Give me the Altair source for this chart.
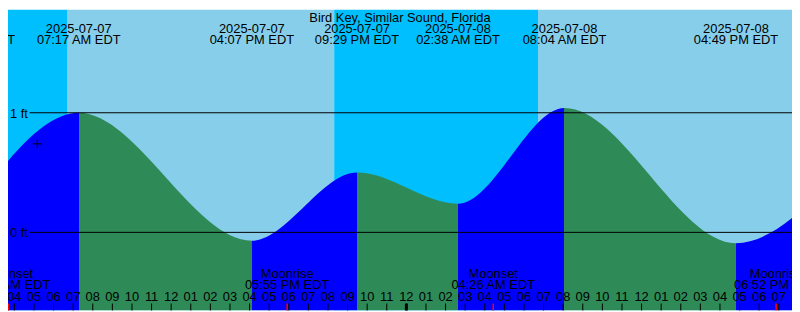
import altair as alt
import pandas as pd

# ---------------- data ----------------
TITLE = "Bird Key, Similar Sound, Florida"

tide_times = ["2025-07-07T01:54:00", "2025-07-07T07:17:00", "2025-07-07T16:07:00",
              "2025-07-07T21:29:00", "2025-07-08T02:38:00", "2025-07-08T08:04:00",
              "2025-07-08T16:49:00", "2025-07-08T22:20:00"]
tide_heights = [0.23, 1.00, -0.07, 0.50, 0.24, 1.04, -0.09, 0.54]
tide_dates = ["2025-07-07", "2025-07-07", "2025-07-07", "2025-07-07",
              "2025-07-08", "2025-07-08", "2025-07-08", "2025-07-08"]
tide_clock = ["01:54 AM EDT", "07:17 AM EDT", "04:07 PM EDT", "09:29 PM EDT",
              "02:38 AM EDT", "08:04 AM EDT", "04:49 PM EDT", "10:20 PM EDT"]

sky_start = ["2025-07-07T00:00:00", "2025-07-07T06:43:00", "2025-07-07T20:19:00", "2025-07-08T06:43:00"]
sky_end = ["2025-07-07T06:43:00", "2025-07-07T20:19:00", "2025-07-08T06:43:00", "2025-07-09T00:00:00"]
sky_kind = ["night", "day", "night", "day"]

moon_times = ["2025-07-07T03:42:00", "2025-07-07T17:55:00", "2025-07-08T04:26:00", "2025-07-08T18:52:00"]
moon_events = ["Moonset", "Moonrise", "Moonset", "Moonrise"]
moon_clock = ["03:42 AM EDT", "05:55 PM EDT", "04:26 AM EDT", "06:52 PM EDT"]

hour_first, hour_last = "2025-07-07T04:00:00", "2025-07-08T19:00:00"
midnights = ["2025-07-08T00:00:00"]
now_times = ["2025-07-07T05:10:00"]
now_heights = [0.74]

levels = [0, 1]
level_labels = ["0 ft", "1 ft"]

window = ["2025-07-07T03:40:30", "2025-07-08T19:40:30"]
height_range = [-0.653, 1.863]

# ---------------- styling ----------------
W, H = 792, 304
SX, SY = W / 800.0, H / 312.0
FONT = "Liberation Sans"
NIGHT, DAY = "#00BFFF", "#87CEEB"
RISE, FALL = "#0000FF", "#2E8B57"


def ms(s):
    # wall-clock time treated as UTC so the drawing does not depend on the browser's zone
    return int(pd.Timestamp(s, tz="UTC").value // 10**6)


def ms_col(lst):
    return [ms(s) for s in lst]


xscale = alt.Scale(type="utc", domain=[ms(window[0]), ms(window[1])])
yscale = alt.Scale(domain=height_range, nice=False, zero=False)


def X(field):
    return alt.X(field, type="temporal", scale=xscale, axis=None)


def Y(field):
    return alt.Y(field, type="quantitative", scale=yscale, axis=None)


# tide table
tide = pd.DataFrame({"t": ms_col(tide_times), "h": tide_heights, "date": tide_dates,
                     "clock": tide_clock})
tide["base"] = height_range[0]

# gradient: blue while rising, green while falling
tms = ms_col(tide_times)
span = float(tms[-1] - tms[0])
offs = [(t - tms[0]) / span for t in tms]
stops = []
for i in range(len(tide_heights) - 1):
    c = RISE if tide_heights[i + 1] > tide_heights[i] else FALL
    stops.append({"offset": offs[i], "color": c})
    stops.append({"offset": offs[i + 1], "color": c})
gradient = {"gradient": "linear", "x1": 0, "x2": 1, "y1": 0, "y2": 0, "stops": stops}

hours = pd.date_range(hour_first, hour_last, freq="h")
hrs = pd.DataFrame({"t": ms_col([str(h) for h in hours]),
                    "lab": [h.strftime("%I") for h in hours]})

sky = pd.DataFrame({"s": ms_col(sky_start), "e": ms_col(sky_end), "kind": sky_kind})
moon = pd.DataFrame({"t": ms_col(moon_times), "ev": moon_events, "clock": moon_clock})
mid = pd.DataFrame({"t": ms_col(midnights)})
now = pd.DataFrame({"t": ms_col(now_times), "h": now_heights})
lev = pd.DataFrame({"h": levels, "lab": level_labels})
ttl = pd.DataFrame({"txt": [TITLE]})

sky_layer = alt.Chart(sky).mark_rect(clip=True).encode(
    x=X("s"), x2="e",
    y=alt.value(0), y2=alt.value(H),
    color=alt.Color("kind:N", scale=alt.Scale(domain=["night", "day"], range=[NIGHT, DAY]), legend=None),
)

tide_area = alt.Chart(tide).mark_area(interpolate="monotone", clip=True, color=gradient).encode(
    x=X("t"), y=Y("h"), y2="base"
)

level_rules = alt.Chart(lev).mark_rule(color="black", strokeWidth=1).encode(
    y=Y("h"), x=alt.value(22 * SX), x2=alt.value(W)
)
level_text = alt.Chart(lev).mark_text(align="left", baseline="middle", font=FONT, fontSize=13,
                                      color="black", dy=1).encode(
    y=Y("h"), x=alt.value(2 * SX), text="lab:N"
)

now_mark = alt.Chart(now).mark_point(shape="M-1,0H1M0,-1V1", size=81, filled=False,
                                     stroke="black", strokeWidth=1, opacity=1).encode(
    x=X("t"), y=Y("h")
)

def txt(df, field, ybase):
    return alt.Chart(df).mark_text(font=FONT, fontSize=13, color="black",
                                   baseline="alphabetic", align="center").encode(
        x=X("t"), y=alt.value(ybase * SY), text=f"{field}:N"
    )

tide_date_text = txt(tide, "date", 24)
tide_clock_text = txt(tide, "clock", 36)
moon_ev_text = txt(moon, "ev", 278.3)
moon_clock_text = txt(moon, "clock", 289.4)
hour_text = txt(hrs, "lab", 302.5)

hour_ticks = alt.Chart(hrs).mark_rule(color="black", strokeWidth=1).encode(
    x=X("t"), y=alt.value(H - 7), y2=alt.value(H)
)
moon_ticks = alt.Chart(moon).mark_rule(color="red", strokeWidth=1.5).encode(
    x=X("t"), y=alt.value(H - 7), y2=alt.value(H)
)
mid_ticks = alt.Chart(mid).mark_rule(color="black", strokeWidth=3).encode(
    x=X("t"), y=alt.value(H - 7), y2=alt.value(H)
)

title_text = alt.Chart(ttl).mark_text(font=FONT, fontSize=13, color="black",
                                      baseline="alphabetic", align="center").encode(
    x=alt.value(W / 2), y=alt.value(12.5 * SY), text="txt:N"
)

chart = alt.layer(
    sky_layer, tide_area, level_rules, level_text, now_mark,
    tide_date_text, tide_clock_text, moon_ev_text, moon_clock_text, hour_text,
    hour_ticks, moon_ticks, mid_ticks, title_text
).properties(
    width=W, height=H, padding=0, autosize="none", background="white"
).configure_view(stroke=None)

chart.save("out.html", embed_options={"renderer": "svg", "actions": False})
